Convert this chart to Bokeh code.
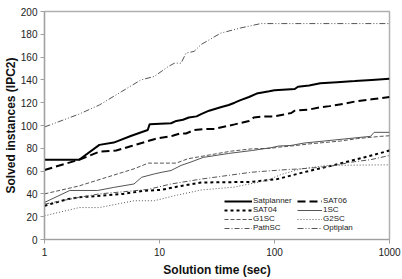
from bokeh.plotting import figure
from bokeh.models import Legend, LegendItem, FixedTicker
from bokeh.embed import file_html
from bokeh.resources import INLINE

# ---- data ----
sat_t = [1, 2, 3, 4, 5.7, 7.9, 8.2, 12.6, 14, 16, 18, 21, 23, 27, 34, 40, 45, 50, 60, 70, 90, 100, 150, 160, 200, 250, 350, 500, 700, 1000]
sat_v = [70, 70, 83, 85, 91, 96, 101, 102, 104, 105, 107, 108, 110, 113, 116, 118, 120, 122, 125, 128, 130, 131, 132, 134, 135, 137, 138, 139, 140, 141]

s06_t = [1, 2, 3, 4.2, 5.7, 9, 10, 13, 15, 17, 20, 25, 30, 45, 60, 66, 80, 100, 140, 150, 200, 250, 300, 400, 500, 700, 1000]
s06_v = [61, 70, 77, 78, 82, 88, 89, 91, 93, 93, 96, 97, 97, 101, 104, 107, 108, 108, 111, 113, 114, 116, 117, 119, 121, 123, 125]

s04_t = [1, 1.6, 2, 3.1, 4.8, 7.4, 10.3, 15.4, 23, 63, 106, 180, 353, 600, 1000]
s04_v = [29.6, 35.5, 37, 38.4, 40, 42.8, 43.5, 47, 50, 50.5, 53, 59, 66, 72, 78]

sc1_t = [1, 1.66, 2.9, 4, 6, 7, 9, 10.5, 12.6, 15.4, 18.8, 24, 40, 63, 93, 109, 139, 181, 310, 685, 735, 1000]
sc1_v = [32.5, 43, 43, 45.7, 48.7, 54.6, 57.5, 59, 60.5, 65, 68, 72, 75.5, 78, 80.5, 82, 82.5, 84.6, 87, 90.5, 94, 94]

g1_t = [1, 2, 3.1, 6, 8, 14, 17.6, 25, 42, 63, 93, 109, 140, 206, 370, 526, 840, 1000]
g1_v = [40, 47, 53, 62, 67, 67, 70.8, 73.5, 77.5, 79.5, 80, 81, 82, 84, 86.3, 88.5, 90.5, 91]

g2_t = [1, 2, 3, 6, 9, 13.5, 23, 45, 87, 114, 170, 290, 1000]
g2_v = [20.8, 28, 28, 34, 34, 38.4, 43.4, 46, 52, 57, 62, 65, 65.5]

path_t = [1, 2, 3, 5, 8, 12.6, 23, 63, 114, 170, 300, 460, 685, 1000]
path_v = [31, 37, 40, 42, 44, 48.7, 53, 59, 61, 62, 64, 67.8, 70, 73.7]

opt_t = [1, 2, 3, 4.65, 6.9, 9, 11.9, 13.5, 15.4, 17, 20, 23, 34, 51, 76, 1000]
opt_v = [98.7, 110, 118, 129.6, 140, 143, 151.7, 154.7, 154.7, 163.5, 165, 171, 181, 185.6, 189.4, 189.4]

x_ticks = [1, 10, 100, 1000]
y_ticks = list(range(0, 201, 20))

FONT = "Liberation Sans"

p = figure(width=402, height=279, x_axis_type="log", x_range=(1, 1000), y_range=(0, 200),
           output_backend="svg", toolbar_location=None,
           min_border_left=40, min_border_right=13, min_border_top=11, min_border_bottom=39)
p.grid.visible = False
p.outline_line_color = "#b0b0b0"
p.outline_line_width = 1.5

for ax in (p.xaxis[0], p.yaxis[0]):
    ax.axis_line_color = "#a0a0a0"
    ax.axis_line_width = 1.2
    ax.major_tick_line_color = "#a0a0a0"
    ax.major_tick_in = 0
    ax.minor_tick_line_color = None
    ax.major_label_text_font = FONT
    ax.major_label_text_font_size = "10px"
    ax.major_label_text_color = "#222222"
    ax.axis_label_text_font = FONT
    ax.axis_label_text_font_size = "12px"
    ax.axis_label_text_font_style = "bold"
    ax.axis_label_text_color = "#111111"

p.xaxis.ticker = FixedTicker(ticks=x_ticks)
p.xaxis.major_label_overrides = {1: "1", 10: "10", 100: "100", 1000: "1000"}
p.yaxis.ticker = FixedTicker(ticks=y_ticks)
p.xaxis.axis_label = "Solution time (sec)"
p.yaxis.axis_label = "Solved instances (IPC2)"
p.xaxis.major_tick_out = 4
p.xaxis.major_label_standoff = 4
p.xaxis.axis_label_standoff = 4
p.yaxis.major_tick_out = 4
p.yaxis.major_label_standoff = 3
p.yaxis.axis_label_standoff = 0

r_sat = p.line(sat_t, sat_v, line_color="black", line_width=2)
r_s06 = p.line(s06_t, s06_v, line_color="black", line_width=2, line_dash="8 4")
r_s04 = p.line(s04_t, s04_v, line_color="black", line_width=2, line_dash="3 3")
r_sc1 = p.line(sc1_t, sc1_v, line_color="#555555", line_width=1)
r_g1 = p.line(g1_t, g1_v, line_color="#555555", line_width=1, line_dash="4 2")
r_g2 = p.line(g2_t, g2_v, line_color="#555555", line_width=1, line_dash="1 2")
r_path = p.line(path_t, path_v, line_color="#555555", line_width=1, line_dash="5 2 1 2")
r_opt = p.line(opt_t, opt_v, line_color="#555555", line_width=1, line_dash="6 2 1 2 1 2")


def make_legend(items, loc, gw):
    lg = Legend(items=items, location=loc, orientation="vertical",
                background_fill_alpha=0, border_line_color=None,
                padding=0, margin=0, spacing=-1, label_standoff=1,
                glyph_width=gw, glyph_height=8, label_height=8,
                label_text_font=FONT, label_text_font_size="8px",
                label_text_color="#222222")
    p.add_layout(lg, "center")


make_legend([LegendItem(label="Satplanner", renderers=[r_sat]),
             LegendItem(label="SAT04", renderers=[r_s04]),
             LegendItem(label="G1SC", renderers=[r_g1]),
             LegendItem(label="PathSC", renderers=[r_path])], (180, 7), 28)
make_legend([LegendItem(label="SAT06", renderers=[r_s06]),
             LegendItem(label="1SC", renderers=[r_sc1]),
             LegendItem(label="G2SC", renderers=[r_g2]),
             LegendItem(label="Optiplan", renderers=[r_opt])], (253, 7), 25)

open("out.html", "w").write(file_html(p, INLINE))
